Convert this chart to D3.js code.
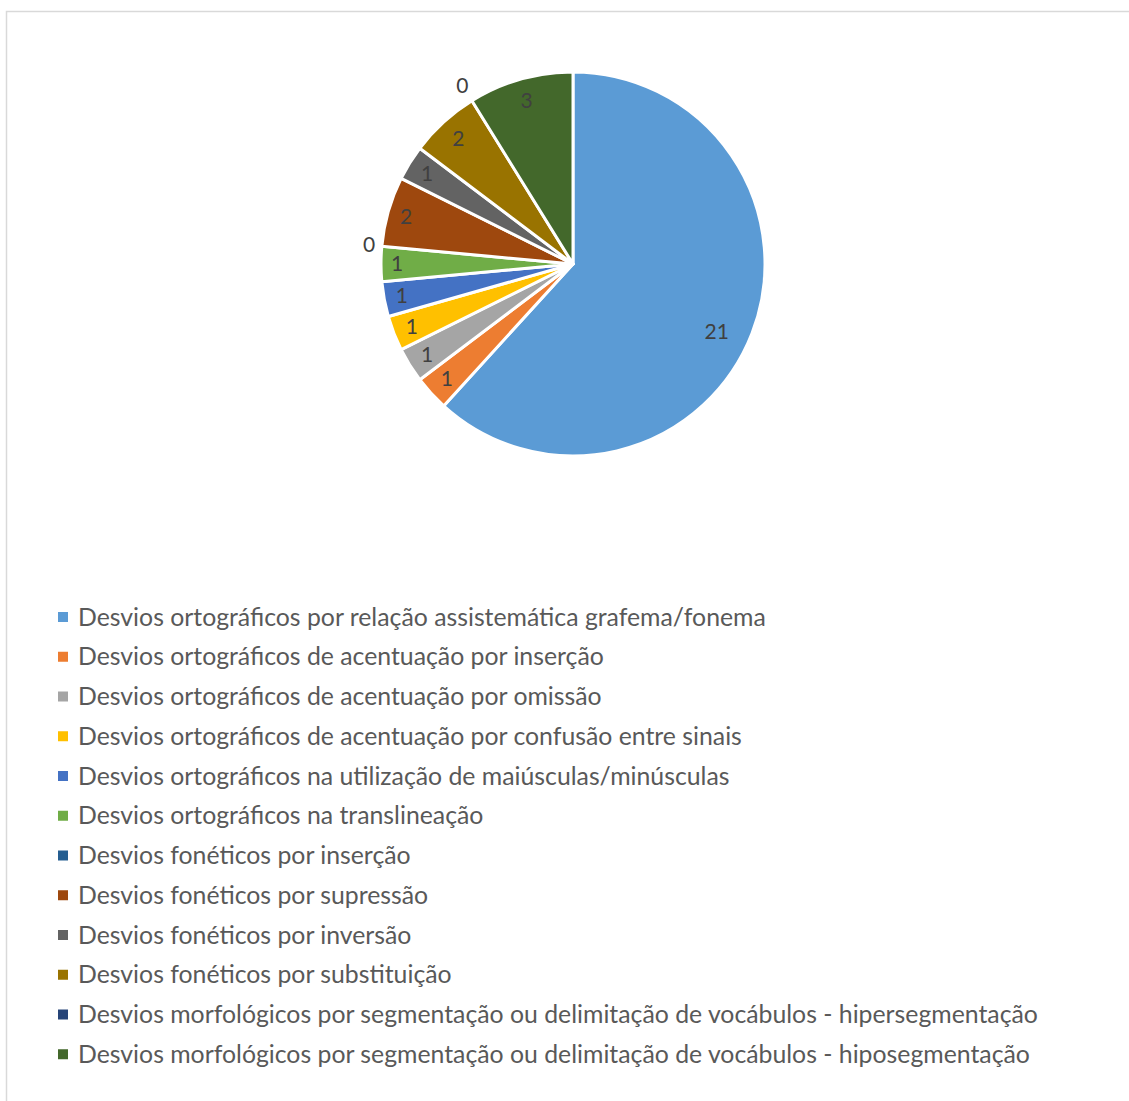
<!DOCTYPE html>
<html>
<head>
<meta charset="utf-8">
<script src="https://cdn.jsdelivr.net/npm/d3@7"></script>
<style>
  body { margin: 0; background: #fff; }
  svg { display: block; }
</style>
</head>
<body>
<svg id="chart" width="1129" height="1101"></svg>
<script>
var categories = [
  "Desvios ortográficos por relação assistemática grafema/fonema",
  "Desvios ortográficos de acentuação por inserção",
  "Desvios ortográficos de acentuação por omissão",
  "Desvios ortográficos de acentuação por confusão entre sinais",
  "Desvios ortográficos na utilização de maiúsculas/minúsculas",
  "Desvios ortográficos na translineação",
  "Desvios fonéticos por inserção",
  "Desvios fonéticos por supressão",
  "Desvios fonéticos por inversão",
  "Desvios fonéticos por substituição",
  "Desvios morfológicos por segmentação ou delimitação de vocábulos - hipersegmentação",
  "Desvios morfológicos por segmentação ou delimitação de vocábulos - hiposegmentação"
];
var values = [21, 1, 1, 1, 1, 1, 0, 2, 1, 2, 0, 3];
var colors = ["#5B9BD5", "#ED7D31", "#A5A5A5", "#FFC000", "#4472C4", "#70AD47",
              "#255E91", "#9E480E", "#636363", "#997300", "#264478", "#43682B"];

var svg = d3.select("#chart");
var font = "Lato, 'Open Sans', sans-serif";

// chart border (only top and left visible in the crop)
svg.append("rect")
    .attr("x", 6.5).attr("y", 11.5)
    .attr("width", 1140).attr("height", 1110)
    .attr("fill", "none")
    .attr("stroke", "#D9D9D9")
    .attr("stroke-width", 1.5);

var cx = 573, cy = 264, radius = 192;
var g = svg.append("g").attr("transform", "translate(" + cx + "," + cy + ")");

var data = values.map(function(v, i) { return {name: categories[i], value: v, color: colors[i]}; });

var pie = d3.pie().sort(null).value(function(d) { return d.value; });
var arcs = pie(data);
var arc = d3.arc().innerRadius(0).outerRadius(radius);

g.selectAll("path.slice")
  .data(arcs.filter(function(d) { return d.data.value > 0; }))
  .enter().append("path")
    .attr("class", "slice")
    .attr("d", arc)
    .attr("fill", function(d) { return d.data.color; })
    .attr("stroke", "#fff")
    .attr("stroke-width", 3)
    .attr("stroke-linejoin", "round");

// data labels: inside end for slices, outside end for zeros
g.selectAll("text.lbl")
  .data(arcs)
  .enter().append("text")
    .attr("class", "lbl")
    .attr("text-anchor", "middle")
    .attr("dy", "0.35em")
    .style("font-family", font)
    .style("font-size", "21px")
    .attr("fill", "#404040")
    .attr("transform", function(d) {
      var a = (d.startAngle + d.endAngle) / 2;
      if (d.data.value >= 10) a += 0.07;
      var sx = Math.sin(a), sy = -Math.cos(a);
      var ext = Math.abs(sx) * (d.data.value >= 10 ? 11 : 5) + Math.abs(sy) * 10;
      var r = d.data.value > 0 ? radius - 11 - ext : radius + 7 + ext;
      if (d.data.value >= 10) r -= 8;
      return "translate(" + (sx * r) + "," + (sy * r) + ")";
    })
    .text(function(d) { return d.data.value; });

// legend
var legendX = 58, legendY0 = 617, legendStep = 39.75;
var legend = svg.append("g");
var items = legend.selectAll("g.item")
  .data(data)
  .enter().append("g")
    .attr("class", "item")
    .attr("transform", function(d, i) { return "translate(" + legendX + "," + (legendY0 + i * legendStep) + ")"; });

items.append("rect")
    .attr("x", 0).attr("y", -5)
    .attr("width", 10).attr("height", 10)
    .attr("fill", function(d) { return d.color; });

var texts = items.append("text")
    .attr("x", 20)
    .attr("dy", "0.35em")
    .style("font-family", font)
    .style("font-size", "21px")
    .attr("fill", "#595959")
    .text(function(d) { return d.name; });

// fit font size so the first entry spans like the reference (~688px)
var w0 = texts.nodes()[0].getComputedTextLength();
var fs = 21 * 688 / w0;
texts.style("font-size", fs.toFixed(2) + "px");
</script>
</body>
</html>
